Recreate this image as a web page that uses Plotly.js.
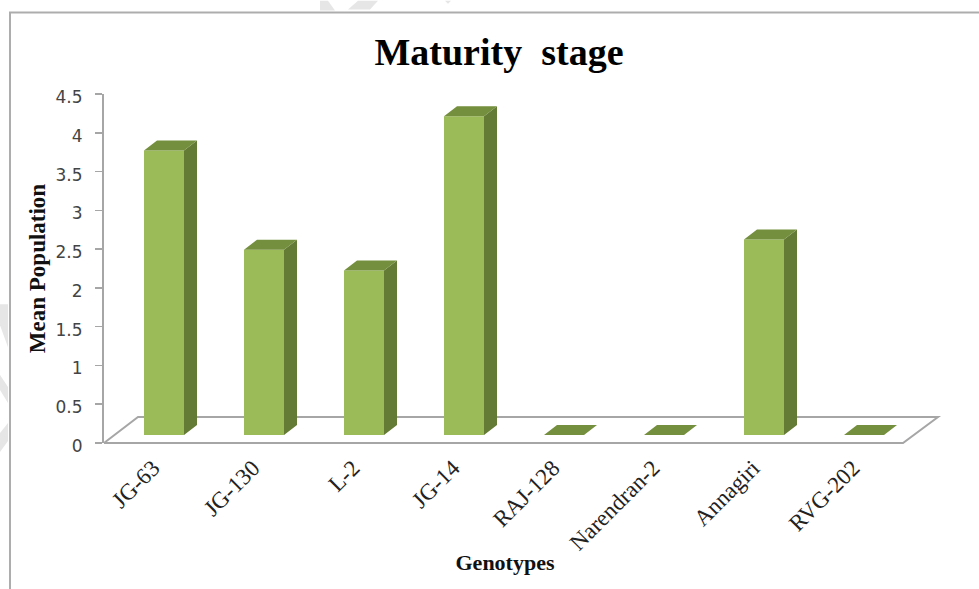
<!DOCTYPE html>
<html>
<head>
<meta charset="utf-8">
<script src="https://cdn.plot.ly/plotly-3.0.1.min.js"></script>
<style>html,body{margin:0;padding:0;background:#fff}#chart{width:979px;height:589px}</style>
</head>
<body>
<div id="chart"></div>
<script>
const categories = ["JG-63","JG-130","L-2","JG-14","RAJ-128","Narendran-2","Annagiri","RVG-202"];
const meanPopulation = [3.67,2.39,2.12,4.11,0,0,2.52,0];

const L=104,R=906,T=93.5,B=443,W=979,H=589;
const xMin=-0.6, xMax=7.42, yMax=4.5;
const ux=(R-L)/(xMax-xMin), uy=(B-T)/yMax;
const dx=v=>v/ux, dy=v=>v/uy;
const halfBar=20/ux, lift=dy(8), depX=dx(13), depY=dy(10);
const idx=categories.map((_,i)=>i);

const sideX=[],sideY=[],topX=[],topY=[];
idx.forEach(i=>{
  const r=i+halfBar,l=i-halfBar,t=meanPopulation[i]+lift;
  if(meanPopulation[i]>0){
    sideX.push(r,r+depX,r+depX,r,r,null);
    sideY.push(lift,lift+depY,t+depY,t,lift,null);
  }
  topX.push(l,l+depX,r+depX,r,l,null);
  topY.push(t,t+depY,t+depY,t,t,null);
});

const traces=[
 {type:'bar',x:idx,y:meanPopulation,base:lift,width:2*halfBar,marker:{color:'#9bbb59',line:{width:0}},name:'Mean Population'},
 {type:'scatter',mode:'lines',x:sideX,y:sideY,fill:'toself',fillcolor:'#637b35',line:{width:0,color:'#637b35'},cliponaxis:false,hoverinfo:'skip'},
 {type:'scatter',mode:'lines',x:topX,y:topY,fill:'toself',fillcolor:'#748f3d',line:{width:0,color:'#748f3d'},cliponaxis:false,hoverinfo:'skip'}
];

const px=v=>(v-L)/(R-L), py=v=>(B-v)/(B-T);
const poly=(pts,close)=>pts.map((p,i)=>(i?'L ':'M ')+px(p[0])+' '+py(p[1])).join(' ')+(close?' Z':'');
const watermark=[
 [[0,304],[8,304],[8,347],[0,325]],
 [[0,375],[8,387],[8,403],[0,390]],
 [[8,423],[8,441],[0,452],[0,433]],
 [[320,0],[328,0],[335,10],[320,10]],
 [[358,0],[378,0],[370,9],[348,9]],
 [[445,0],[451,0],[448,3]]
];
const layout={
 width:W,height:H,showlegend:false,
 margin:{l:L,r:W-R,t:T,b:H-B,pad:0},
 paper_bgcolor:'#fff',plot_bgcolor:'rgba(0,0,0,0)',
 title:{text:'<b>Maturity  stage</b>',font:{family:'"Liberation Serif",serif',size:38,color:'#000'},x:499/W,xanchor:'center',y:1-52/H,yanchor:'middle'},
 xaxis:{range:[xMin,xMax],tickmode:'array',tickvals:idx,ticktext:categories,tickangle:-45,ticks:'',showline:false,showgrid:false,zeroline:false,
   ticklabelshift:-11,ticklabelstandoff:6,
   tickfont:{family:'"Liberation Serif",serif',size:23,color:'#222'},
   title:{text:'<b>Genotypes</b>',font:{family:'"Liberation Serif",serif',size:22,color:'#111'},standoff:0}},
 yaxis:{range:[0,yMax],tick0:0,dtick:0.5,ticks:'outside',ticklen:7,tickwidth:1.5,tickcolor:'#a6a6a6',showline:true,linecolor:'#a6a6a6',linewidth:2,showgrid:false,zeroline:false,
   ticklabelstandoff:9,ticklabelshift:3,
   tickfont:{family:'"DejaVu Sans",sans-serif',size:17,color:'#444'},
   title:{text:'<b>Mean Population</b>',font:{family:'"Liberation Serif",serif',size:23,color:'#111'},standoff:4}},
 shapes:[
  ...watermark.map(p=>({type:'path',layer:'below',xref:'paper',yref:'paper',path:poly(p,true),fillcolor:'#e6e6e6',line:{width:0}})),
  {type:'path',layer:'below',xref:'paper',yref:'paper',path:poly([[104,443],[138,417],[938,417],[903,443],[104,443]]),line:{color:'#a6a6a6',width:2}},
  {type:'path',xref:'paper',yref:'paper',path:poly([[10,590],[10,12],[980,12]]),line:{color:'#adadad',width:2}}
 ]
};
Plotly.newPlot('chart',traces,layout,{displayModeBar:false,staticPlot:true});
</script>
</body>
</html>
